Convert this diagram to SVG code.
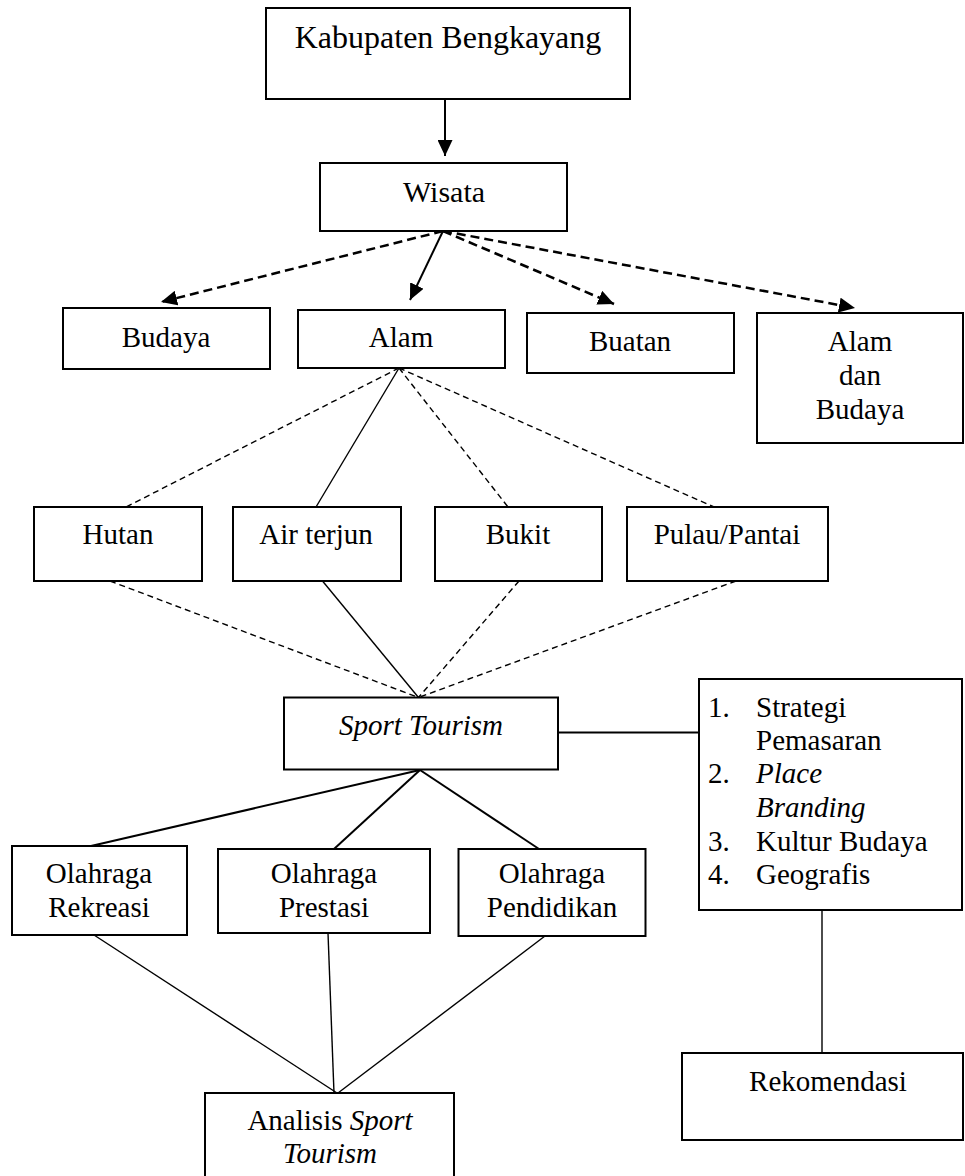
<svg xmlns="http://www.w3.org/2000/svg" width="965" height="1176" viewBox="0 0 965 1176">
<style>
  .box { fill: #ffffff; stroke: #000000; stroke-width: 2; }
  .t { font-family: "Liberation Serif", "Times New Roman", serif; font-size: 29px; fill: #000000; text-anchor: middle; }
  .tl { font-family: "Liberation Serif", "Times New Roman", serif; font-size: 29px; fill: #000000; }
  .it { font-style: italic; }
  .solid { stroke: #000; stroke-width: 2; fill: none; }
  .thin { stroke: #000; stroke-width: 1.4; fill: none; }
  .dashbold { stroke: #000; stroke-width: 2.5; fill: none; stroke-dasharray: 9 5; }
  .dashthin { stroke: #000; stroke-width: 1.4; fill: none; stroke-dasharray: 6 4; }
</style>
<defs>
  <marker id="arr" markerUnits="userSpaceOnUse" markerWidth="17" markerHeight="15" refX="16" refY="7.5" orient="auto">
    <path d="M0,0 L16,7.5 L0,15 Z" fill="#000"/>
  </marker>
</defs>
<rect width="965" height="1176" fill="#ffffff"/>

<g id="connectors">
  <line class="solid" x1="445" y1="99" x2="445" y2="156" marker-end="url(#arr)"/>
  <line class="dashbold" x1="443" y1="231" x2="161" y2="302" marker-end="url(#arr)"/>
  <line class="solid" x1="443" y1="231" x2="410" y2="300" marker-end="url(#arr)"/>
  <line class="dashbold" x1="443" y1="231" x2="614" y2="304" marker-end="url(#arr)"/>
  <line class="dashbold" x1="443" y1="231" x2="855" y2="308" marker-end="url(#arr)"/>

  <line class="dashthin" x1="399" y1="368" x2="126" y2="507"/>
  <line class="thin" x1="399" y1="368" x2="316" y2="507"/>
  <line class="dashthin" x1="399" y1="368" x2="508" y2="507"/>
  <line class="dashthin" x1="399" y1="368" x2="714" y2="507"/>

  <line class="dashthin" x1="110" y1="581" x2="418.5" y2="697.5"/>
  <line class="thin" x1="322.5" y1="581" x2="418.5" y2="697.5"/>
  <line class="dashthin" x1="519" y1="581" x2="418.5" y2="697.5"/>
  <line class="dashthin" x1="736" y1="581" x2="418.5" y2="697.5"/>

  <line class="solid" x1="558" y1="732.5" x2="699" y2="732.5"/>

  <line class="solid" x1="420" y1="770" x2="91" y2="846"/>
  <line class="solid" x1="420" y1="770" x2="334" y2="849"/>
  <line class="solid" x1="420" y1="770" x2="539" y2="849"/>

  <line class="thin" x1="94" y1="935" x2="337" y2="1093"/>
  <line class="thin" x1="328" y1="933" x2="334" y2="1093"/>
  <line class="thin" x1="545" y1="936" x2="338" y2="1093"/>

  <line class="thin" x1="822" y1="910" x2="822" y2="1053"/>
</g>

<g id="kabupaten">
  <rect class="box" x="266" y="8" width="364" height="91"/>
  <text class="t" x="448" y="48" style="font-size:32px">Kabupaten Bengkayang</text>
</g>
<g id="wisata">
  <rect class="box" x="320" y="163" width="247" height="68"/>
  <text class="t" x="444" y="202" style="font-size:30px">Wisata</text>
</g>
<g id="budaya">
  <rect class="box" x="63" y="308" width="207" height="61"/>
  <text class="t" x="166" y="347">Budaya</text>
</g>
<g id="alam">
  <rect class="box" x="298" y="310" width="207" height="58"/>
  <text class="t" x="401" y="347">Alam</text>
</g>
<g id="buatan">
  <rect class="box" x="527" y="313" width="207" height="60"/>
  <text class="t" x="630" y="351">Buatan</text>
</g>
<g id="alam-dan-budaya">
  <rect class="box" x="757" y="313" width="206" height="130"/>
  <text class="t" x="860" y="351">Alam</text>
  <text class="t" x="860" y="385">dan</text>
  <text class="t" x="860" y="419">Budaya</text>
</g>
<g id="hutan">
  <rect class="box" x="34" y="507" width="168" height="74"/>
  <text class="t" x="118" y="544">Hutan</text>
</g>
<g id="air-terjun">
  <rect class="box" x="233" y="507" width="168" height="74"/>
  <text class="t" x="316" y="544">Air terjun</text>
</g>
<g id="bukit">
  <rect class="box" x="435" y="507" width="167" height="74"/>
  <text class="t" x="518" y="544">Bukit</text>
</g>
<g id="pulau-pantai">
  <rect class="box" x="627" y="507" width="201" height="74"/>
  <text class="t" x="727" y="544">Pulau/Pantai</text>
</g>
<g id="sport-tourism">
  <rect class="box" x="284" y="697.5" width="274" height="72"/>
  <text class="t it" x="421" y="735">Sport Tourism</text>
</g>
<g id="faktor">
  <rect class="box" x="699" y="679" width="263" height="231"/>
  <text class="tl" x="708" y="717">1.</text>
  <text class="tl" x="756" y="717">Strategi</text>
  <text class="tl" x="756" y="750">Pemasaran</text>
  <text class="tl" x="708" y="783">2.</text>
  <text class="tl it" x="756" y="783">Place</text>
  <text class="tl it" x="756" y="817">Branding</text>
  <text class="tl" x="708" y="851">3.</text>
  <text class="tl" x="756" y="851">Kultur Budaya</text>
  <text class="tl" x="708" y="884">4.</text>
  <text class="tl" x="756" y="884">Geografis</text>
</g>
<g id="olahraga-rekreasi">
  <rect class="box" x="12" y="846" width="175" height="89"/>
  <text class="t" x="99" y="883">Olahraga</text>
  <text class="t" x="99" y="917">Rekreasi</text>
</g>
<g id="olahraga-prestasi">
  <rect class="box" x="218" y="849" width="212" height="84"/>
  <text class="t" x="324" y="883">Olahraga</text>
  <text class="t" x="324" y="917">Prestasi</text>
</g>
<g id="olahraga-pendidikan">
  <rect class="box" x="458.5" y="849" width="187" height="87"/>
  <text class="t" x="552" y="883">Olahraga</text>
  <text class="t" x="552" y="917">Pendidikan</text>
</g>
<g id="analisis">
  <rect class="box" x="205" y="1093" width="249" height="90"/>
  <text class="t" x="330" y="1130">Analisis <tspan class="it">Sport</tspan></text>
  <text class="t it" x="330" y="1163">Tourism</text>
</g>
<g id="rekomendasi">
  <rect class="box" x="682" y="1053" width="281" height="87"/>
  <text class="t" x="828" y="1091">Rekomendasi</text>
</g>
</svg>
